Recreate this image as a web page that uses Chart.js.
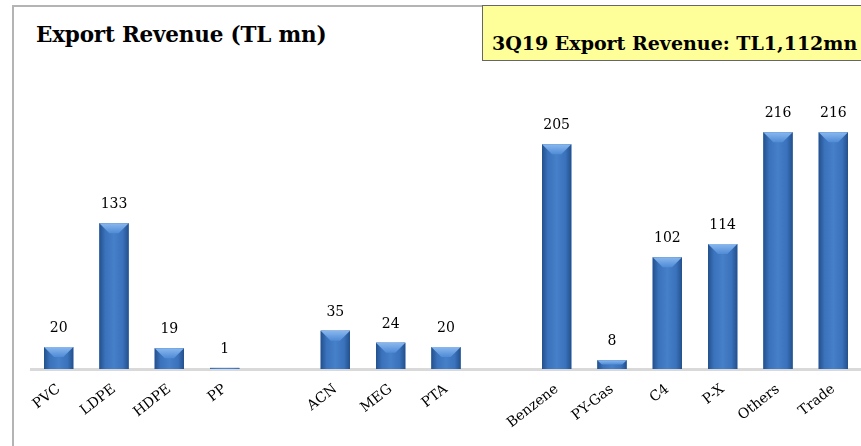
<!DOCTYPE html>
<html>
<head>
<meta charset="utf-8">
<script src="https://cdn.jsdelivr.net/npm/chart.js@4/dist/chart.umd.min.js"></script>
<style>
  html, body { margin: 0; padding: 0; background: #fff; overflow: hidden; }
  #wrap { position: relative; width: 861px; height: 446px; }
  #frame { position: absolute; left: 12px; top: 5px; width: 900px; height: 500px;
           border-left: 2px solid #b4b4b4; border-top: 2px solid #b4b4b4; }
  #title { position: absolute; left: 36px; top: 22px; font: bold 21.5px "DejaVu Serif", serif; color: #000; letter-spacing: -0.2px; }
  #note { position: absolute; left: 482px; top: 5px; width: 400px; height: 56px;
          background: #ffff99; border: 1px solid #666; box-sizing: border-box; }
  #note span { position: absolute; left: 9px; top: 26px; font: bold 19px "DejaVu Serif", serif; color: #000; white-space: nowrap; letter-spacing: 0px; }
  canvas { position: absolute; left: 0; top: 0; }
</style>
</head>
<body>
<div id="wrap">
  <div id="frame"></div>
  <div id="title">Export Revenue (TL mn)</div>
  <div id="note"><span>3Q19 Export Revenue: TL1,112mn</span></div>
  <canvas id="myChart" width="861" height="446"></canvas>
</div>
<script>
// categories (empty strings are the gaps between product groups)
var products = ['PVC', 'LDPE', 'HDPE', 'PP', '', 'ACN', 'MEG', 'PTA', '',
                'Benzene', 'PY-Gas', 'C4', 'P-X', 'Others', 'Trade'];
var revenue = [20, 133, 19, 1, null, 35, 24, 20, null,
               205, 8, 102, 114, 216, 216];

var labelFont = '14px "DejaVu Serif", serif';

// repaint the bars with a rounded-column shading and bevelled top, then value labels
var barDeco = {
    id: 'barDeco',
    afterDatasetsDraw: function(chart) {
        var ctx = chart.ctx;
        var meta = chart.getDatasetMeta(0);
        ctx.save();
        meta.data.forEach(function(bar, i) {
            var v = revenue[i];
            if (v === null || !isFinite(bar.x)) return;
            var left = bar.x - bar.width / 2, right = bar.x + bar.width / 2;
            var h = bar.base - bar.y;
            if (h > 0.5) {
                var g = ctx.createLinearGradient(left, 0, right, 0);
                g.addColorStop(0, '#23508c');
                g.addColorStop(0.2, '#3a72bc');
                g.addColorStop(0.5, '#4680c8');
                g.addColorStop(0.8, '#3a72bc');
                g.addColorStop(1, '#23508c');
                ctx.fillStyle = g;
                ctx.fillRect(left, bar.y, bar.width, h);

                var d = Math.min(10, h / 2);
                ctx.beginPath();
                ctx.moveTo(left, bar.y);
                ctx.lineTo(right, bar.y);
                ctx.lineTo(right - d, bar.y + d);
                ctx.lineTo(left + d, bar.y + d);
                ctx.closePath();
                var t = ctx.createLinearGradient(0, bar.y, 0, bar.y + d);
                t.addColorStop(0, '#8ab8ee');
                t.addColorStop(1, '#4f8bd6');
                ctx.fillStyle = t;
                ctx.fill();
            }
            ctx.fillStyle = '#000';
            ctx.font = labelFont;
            ctx.textAlign = 'center';
            ctx.textBaseline = 'alphabetic';
            ctx.fillText(String(v), bar.x, bar.y - 15);
        });
        ctx.restore();
    }
};

var ctx = document.getElementById('myChart').getContext('2d');
var myChart = new Chart(ctx, {
    type: 'bar',
    data: {
        labels: products,
        datasets: [{
            data: revenue,
            backgroundColor: '#3a70b8',
            borderWidth: 0,
            barPercentage: 0.53,
            categoryPercentage: 1
        }]
    },
    plugins: [barDeco],
    options: {
        responsive: false,
        animation: false,
        events: [],
        layout: { padding: { left: 31, right: 0, top: 95, bottom: 0 } },
        plugins: { legend: { display: false }, tooltip: { enabled: false } },
        scales: {
            x: {
                grid: { display: false },
                border: { display: true, color: '#d9d9d9', width: 3 },
                ticks: {
                    color: '#000',
                    font: { family: '"DejaVu Serif", serif', size: 14 },
                    minRotation: 38,
                    maxRotation: 38,
                    autoSkip: false,
                    padding: 4
                },
                afterFit: function(scale) { scale.height = 77; }
            },
            y: {
                display: false,
                min: 0,
                max: 250
            }
        }
    }
});
</script>
</body>
</html>
